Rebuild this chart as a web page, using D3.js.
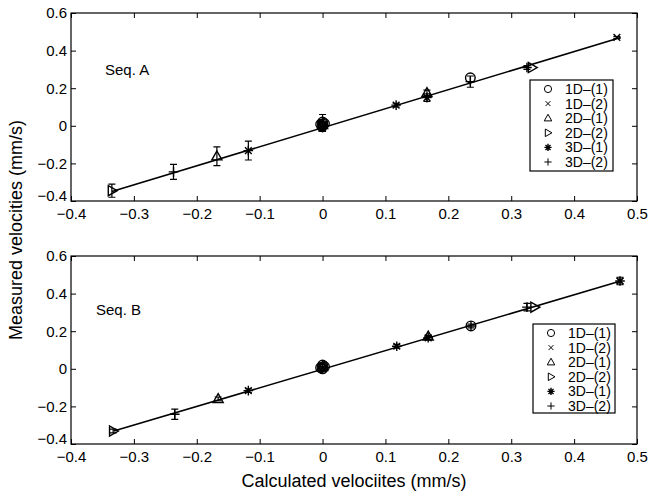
<!DOCTYPE html>
<html>
<head>
<meta charset="utf-8">
<script src="https://cdn.jsdelivr.net/npm/d3@7"></script>
<style>
  body { margin: 0; background: #fff; }
  svg text { font-family: "Liberation Sans", Arial, sans-serif; fill: #000; }
</style>
</head>
<body>
<svg id="chart" width="656" height="501"></svg>
<script>
/* ---------------- data ---------------- */
var xTicks = [-0.4, -0.3, -0.2, -0.1, 0, 0.1, 0.2, 0.3, 0.4, 0.5];
var yTicks = [-0.4, -0.2, 0, 0.2, 0.4, 0.6];
var seriesNames = ['1D\u2013(1)', '1D\u2013(2)', '2D\u2013(1)', '2D\u2013(2)', '3D\u2013(1)', '3D\u2013(2)'];

// Seq. A  (series index: 0=1D-(1) 1=1D-(2) 2=2D-(1) 3=2D-(2) 4=3D-(1) 5=3D-(2))
var seqA_series = [3, 5, 2, 4, 0, 0, 0, 0, 0, 1, 2, 3, 4, 5, 4, 2, 4, 0, 5, 5, 3, 1];
var seqA_calc   = [-0.335, -0.237, -0.168, -0.118, 0, 0, 0, -0.003, 0.003, 0, 0, 0, 0, 0, 0.117, 0.166, 0.166, 0.235, 0.235, 0.325, 0.333, 0.468];
var seqA_meas   = [-0.345, -0.245, -0.162, -0.132, 0.0, 0.01, 0.02, 0.008, 0.012, 0.0, 0.005, 0.0, -0.01, 0.02, 0.11, 0.175, 0.15, 0.255, 0.235, 0.31, 0.31, 0.47];
var seqA_err    = [0.035, 0.04, 0.05, 0.05, 0, 0, 0, 0, 0, 0, 0, 0, 0.02, 0.04, 0.01, 0.015, 0.02, 0, 0.03, 0.01, 0, 0.005];
var seqA_fitX   = [-0.335, 0.474];
var seqA_fitY   = [-0.35, 0.47];

// Seq. B
var seqB_series = [3, 5, 2, 4, 0, 0, 0, 0, 0, 1, 2, 4, 5, 4, 2, 4, 0, 5, 5, 3, 1, 4];
var seqB_calc   = [-0.333, -0.235, -0.166, -0.118, 0, 0, 0, -0.003, 0.003, 0, 0, 0, 0, 0.118, 0.168, 0.168, 0.236, 0.236, 0.325, 0.337, 0.473, 0.473];
var seqB_meas   = [-0.331, -0.242, -0.16, -0.116, 0.0, 0.01, 0.02, 0.006, 0.012, 0.005, 0.01, 0.005, 0.01, 0.12, 0.172, 0.165, 0.228, 0.228, 0.328, 0.328, 0.467, 0.467];
var seqB_err    = [0.01, 0.027, 0.01, 0.01, 0, 0, 0, 0, 0, 0, 0, 0, 0.02, 0.01, 0.005, 0.01, 0, 0.01, 0.02, 0, 0.02, 0];
var seqB_fitX   = [-0.332, 0.474];
var seqB_fitY   = [-0.331, 0.467];

/* ---------------- layout ---------------- */
var svg = d3.select('#chart');
var plotLeft = 71, plotRight = 637;
var panels = [
  { top: 13,  bottom: 201, label: 'Seq. A', labelX: 105, labelY: 75,
    series: seqA_series, calc: seqA_calc, meas: seqA_meas, err: seqA_err, fitX: seqA_fitX, fitY: seqA_fitY,
    legend: { x: 530, y: 80, w: 83, h: 91 } },
  { top: 256, bottom: 444, label: 'Seq. B', labelX: 96, labelY: 315,
    series: seqB_series, calc: seqB_calc, meas: seqB_meas, err: seqB_err, fitX: seqB_fitX, fitY: seqB_fitY,
    legend: { x: 533, y: 324, w: 82, h: 89 } }
];

var xScale = d3.scaleLinear().domain([-0.4, 0.5]).range([plotLeft, plotRight]);

function tickFmt(d) {
  return Math.abs(d) < 1e-9 ? '0' : d3.format('.1f')(d);
}

// marker shapes, centred on 0,0
function marker(type, s) {
  switch (type) {
    case 0: return 'M' + s + ',0A' + s + ',' + s + ' 0 1,1 ' + (-s) + ',0A' + s + ',' + s + ' 0 1,1 ' + s + ',0Z';
    case 1: var h = s * 0.7; return 'M' + (-h) + ',' + (-h) + 'L' + h + ',' + h + 'M' + (-h) + ',' + h + 'L' + h + ',' + (-h);
    case 2: return 'M0,' + (-s * 1.1) + 'L' + (s * 1.05) + ',' + (s * 0.75) + 'L' + (-s * 1.05) + ',' + (s * 0.75) + 'Z';
    case 3: return 'M' + (s * 1.1) + ',0L' + (-s * 0.75) + ',' + (-s * 1.05) + 'L' + (-s * 0.75) + ',' + (s * 1.05) + 'Z';
    case 4: var d = s * 0.7;
      return 'M' + (-s) + ',0L' + s + ',0M0,' + (-s) + 'L0,' + s +
             'M' + (-d) + ',' + (-d) + 'L' + d + ',' + d + 'M' + (-d) + ',' + d + 'L' + d + ',' + (-d);
    case 5: return 'M' + (-s) + ',0L' + s + ',0M0,' + (-s) + 'L0,' + s;
  }
}

panels.forEach(function (p) {
  var yScale = d3.scaleLinear().domain([-0.4, 0.6]).range([p.bottom, p.top]);
  var g = svg.append('g');

  // frame
  g.append('rect')
    .attr('x', plotLeft).attr('y', p.top)
    .attr('width', plotRight - plotLeft).attr('height', p.bottom - p.top)
    .attr('fill', 'none').attr('stroke', '#000').attr('stroke-width', 1.2);

  // axes, ticks inward on all four sides
  var xb = g.append('g').attr('transform', 'translate(0,' + p.bottom + ')')
    .call(d3.axisBottom(xScale).tickValues(xTicks).tickSize(-5).tickPadding(7).tickFormat(tickFmt));
  var xt = g.append('g').attr('transform', 'translate(0,' + p.top + ')')
    .call(d3.axisTop(xScale).tickValues(xTicks).tickSize(-5).tickFormat(''));
  var yl = g.append('g').attr('transform', 'translate(' + plotLeft + ',0)')
    .call(d3.axisLeft(yScale).tickValues(yTicks).tickSize(-5).tickPadding(4).tickFormat(tickFmt));
  var yr = g.append('g').attr('transform', 'translate(' + plotRight + ',0)')
    .call(d3.axisRight(yScale).tickValues(yTicks).tickSize(-5).tickFormat(''));
  [xb, xt, yl, yr].forEach(function (a) {
    a.select('.domain').remove();
    a.selectAll('text').attr('font-size', 15).attr('font-family', '"Liberation Sans", Arial, sans-serif');
    a.selectAll('line').attr('stroke-width', 1);
  });
  // lowest y label sits a little higher so it clears the x labels
  yl.selectAll('.tick text').filter(function (d) { return d === yTicks[0]; }).attr('dy', '-0.05em');

  // fitted line
  var fit = p.fitX.map(function (x, i) { return [x, p.fitY[i]]; });
  g.append('path')
    .attr('d', d3.line().x(function (d) { return xScale(d[0]); }).y(function (d) { return yScale(d[1]); })(fit))
    .attr('fill', 'none').attr('stroke', '#000').attr('stroke-width', 1.6);

  var pts = p.calc.map(function (x, i) { return { x: x, y: p.meas[i], e: p.err[i], s: p.series[i] }; });

  // error bars
  g.selectAll('.eb').data(pts.filter(function (d) { return d.e > 0; })).enter().append('path')
    .attr('d', function (d) {
      var cx = xScale(d.x), y1 = yScale(d.y - d.e), y2 = yScale(d.y + d.e), c = 3.5;
      return 'M' + cx + ',' + y1 + 'L' + cx + ',' + y2 +
             'M' + (cx - c) + ',' + y1 + 'L' + (cx + c) + ',' + y1 +
             'M' + (cx - c) + ',' + y2 + 'L' + (cx + c) + ',' + y2;
    })
    .attr('fill', 'none').attr('stroke', '#000').attr('stroke-width', 1.2);

  // markers
  g.selectAll('.mk').data(pts).enter().append('path')
    .attr('transform', function (d) { return 'translate(' + xScale(d.x) + ',' + yScale(d.y) + ')'; })
    .attr('d', function (d) { return marker(d.s, 4.8); })
    .attr('fill', 'none').attr('stroke', '#000').attr('stroke-width', 1.4);

  // sequence label
  g.append('text').attr('x', p.labelX).attr('y', p.labelY).attr('font-size', 15).text(p.label);

  // legend
  var L = p.legend;
  var lg = g.append('g');
  lg.append('rect').attr('x', L.x).attr('y', L.y).attr('width', L.w).attr('height', L.h)
    .attr('fill', '#fff').attr('stroke', '#000').attr('stroke-width', 1.2);
  seriesNames.forEach(function (name, i) {
    var cy = L.y + 9 + i * 14.6;
    lg.append('path')
      .attr('transform', 'translate(' + (L.x + 18) + ',' + cy + ')')
      .attr('d', marker(i, i === 1 ? 3.5 : 3.6))
      .attr('fill', 'none').attr('stroke', '#000').attr('stroke-width', i === 4 ? 1.4 : 1);
    lg.append('text').attr('x', L.x + 35).attr('y', cy + 5).attr('font-size', 14).text(name);
  });
});

// axis titles
svg.append('text')
  .attr('transform', 'translate(22,230) rotate(-90)')
  .attr('text-anchor', 'middle').attr('font-size', 18)
  .text('Measured velocities (mm/s)');
svg.append('text')
  .attr('x', (plotLeft + plotRight) / 2).attr('y', 487)
  .attr('text-anchor', 'middle').attr('font-size', 18)
  .text('Calculated velociites (mm/s)');
</script>
</body>
</html>
